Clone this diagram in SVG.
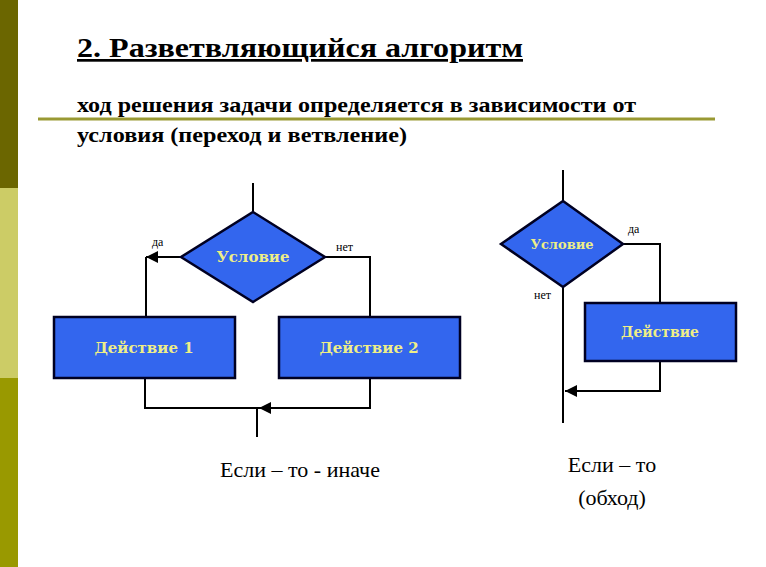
<svg xmlns="http://www.w3.org/2000/svg" width="766" height="567" viewBox="0 0 766 567">
<style>
.n{fill:#3366ee;stroke:#000022;stroke-width:2.5}
.t{font-family:"DejaVu Serif",serif;font-weight:bold;fill:#eeee88;text-anchor:middle}
.l{fill:none;stroke:#000;stroke-width:2}
.s{font-family:"Liberation Serif",serif;font-size:12px;fill:#000}
.h{font-family:"Liberation Serif",serif;font-weight:bold;fill:#000}
.c{font-family:"Liberation Serif",serif;font-size:22px;fill:#000;text-anchor:middle}
</style>
<defs><marker id="a" viewBox="0 0 10 10" refX="10" refY="5" markerWidth="6" markerHeight="6" orient="auto" markerUnits="strokeWidth"><path d="M0,0L10,5L0,10z" fill="#000"/></marker></defs>
<rect width="766" height="567" fill="#fff"/>
<rect x="0" y="0" width="18" height="188" fill="#6b6600"/>
<rect x="0" y="188" width="18" height="190" fill="#cccc66"/>
<rect x="0" y="378" width="18" height="189" fill="#999900"/>
<text class="h" x="77" y="57" font-size="27" textLength="446" lengthAdjust="spacingAndGlyphs" text-decoration="underline">2. Разветвляющийся алгоритм</text>
<text class="h" x="77" y="112" font-size="20" textLength="559" lengthAdjust="spacingAndGlyphs">ход решения задачи определяется в зависимости от</text>
<line x1="38" y1="119" x2="715" y2="119" stroke="#999933" stroke-width="3"/>
<text class="h" x="77" y="142" font-size="20" textLength="330" lengthAdjust="spacingAndGlyphs">условия (переход и ветвление)</text>
<g id="connectors">
<path class="l" d="M253,183V212"/>
<path class="l" d="M181,257H146" marker-end="url(#a)"/>
<path class="l" d="M146,257V317"/>
<path class="l" d="M325,257H370V317"/>
<path class="l" d="M145,378V408H370V378"/>
<path class="l" d="M370,408H259" marker-end="url(#a)"/>
<path class="l" d="M257,408V437"/>
<path class="l" d="M563,170V201"/>
<path class="l" d="M623,244H660V303"/>
<path class="l" d="M660,361V391H565" marker-end="url(#a)"/>
<path class="l" d="M563,287V423"/>
</g>
<text class="s" x="152" y="246">да</text>
<text class="s" x="336" y="251">нет</text>
<text class="s" x="628" y="233">да</text>
<text class="s" x="534" y="299">нет</text>
<g id="cond1"><path class="n" d="M253,212L325,257L253,302L181,257z"/><text class="t" x="253" y="262" font-size="15">Условие</text></g>
<g id="act1"><rect class="n" x="54" y="317" width="181" height="61"/><text class="t" x="144" y="353" font-size="15">Действие 1</text></g>
<g id="act2"><rect class="n" x="279" y="317" width="181" height="61"/><text class="t" x="369" y="353" font-size="15">Действие 2</text></g>
<g id="cond2"><path class="n" d="M563,201L623,244L563,287L501,244z"/><text class="t" x="562" y="249" font-size="13">Условие</text></g>
<g id="act3"><rect class="n" x="585" y="303" width="151" height="58"/><text class="t" x="660" y="337" font-size="14">Действие</text></g>
<text class="c" x="300" y="477">Если – то - иначе</text>
<text class="c" x="612" y="472">Если – то</text>
<text class="c" x="612" y="505">(обход)</text>
</svg>
